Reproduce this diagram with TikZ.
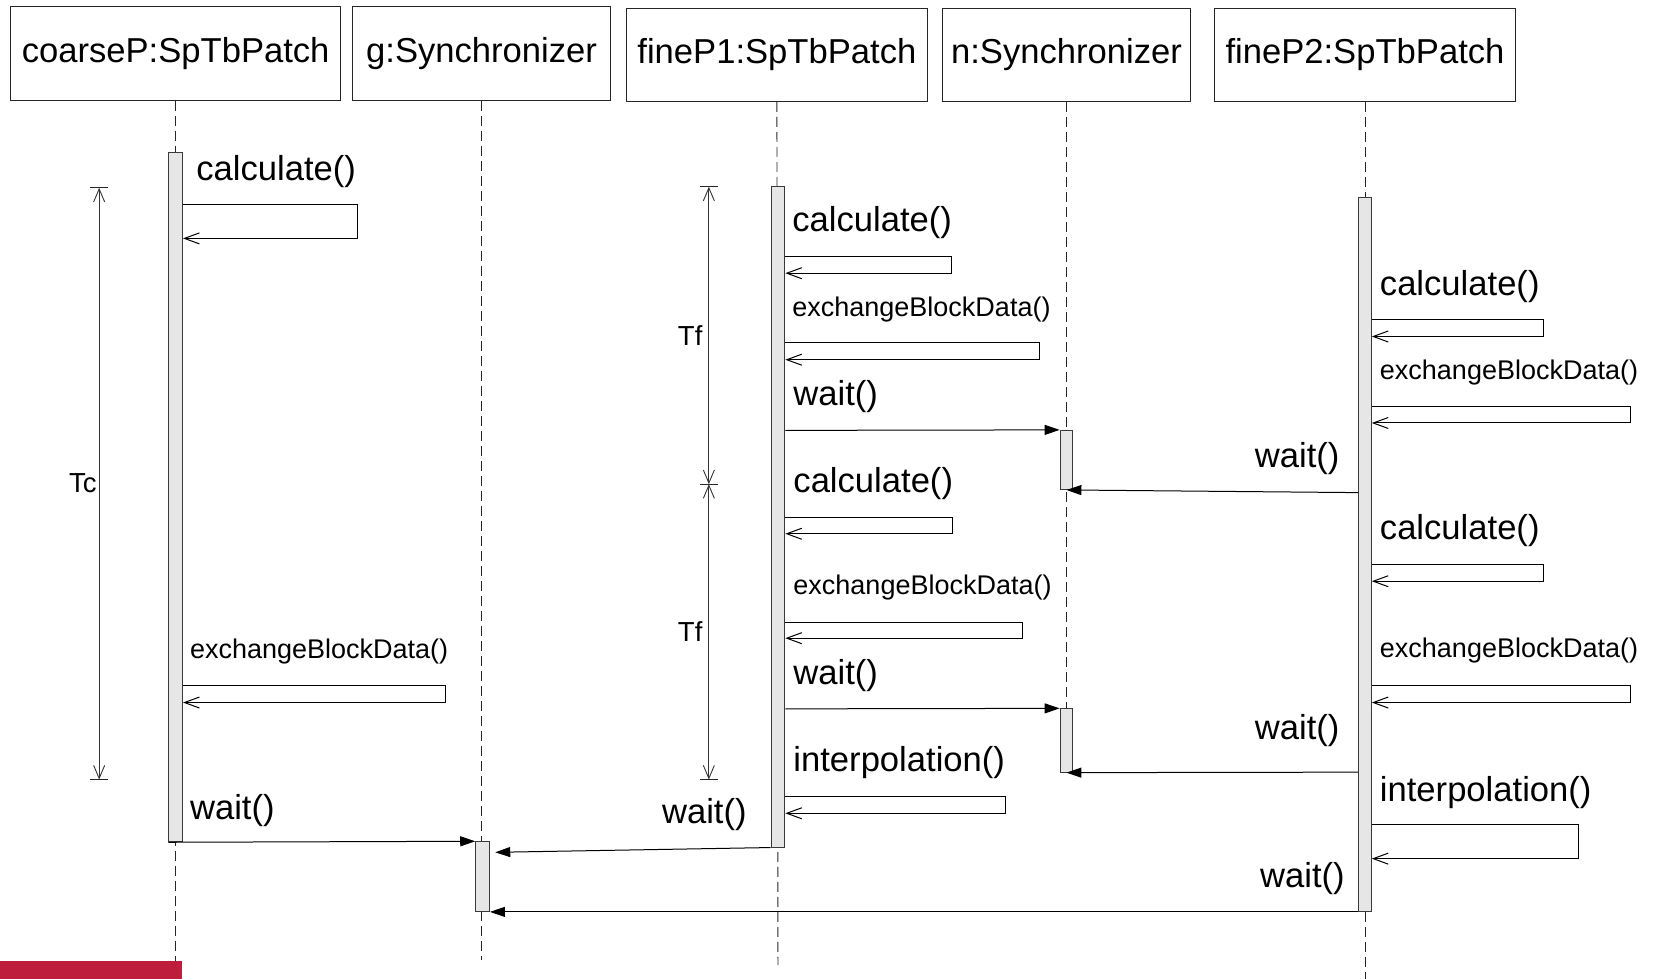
\documentclass[tikz,border=0pt]{standalone}
\usepackage{fontspec}
\setmainfont{Liberation Sans}
\usetikzlibrary{fit,arrows.meta,calc}
\definecolor{actfill}{HTML}{E6E6E6}
\definecolor{actdraw}{HTML}{3A3A3A}
\definecolor{redbar}{HTML}{BE1E3C}
\newcommand\bigfnt{\fontsize{34.6}{40}\selectfont}
\newcommand\smallfnt{\fontsize{27}{30}\selectfont}
\newcommand\tfnt{\fontsize{27.5}{30}\selectfont}
\begin{document}
\begin{tikzpicture}[x=1.0548pt,y=-1.0548pt,
  head/.style={draw=black!85, line width=1pt, inner sep=0pt, font=\bigfnt, minimum height=93.9pt},
  lifeline/.style={draw=black!85, line width=0.9pt, dash pattern=on 10pt off 5pt},
  act/.style={draw=actdraw, fill=actfill, line width=1pt, inner sep=0pt},
  selfmsg/.style={draw=black, line width=1pt, -{Straight Barb[length=15pt,width=11pt]}},
  msg/.style={draw=black, line width=1pt, -{Triangle[length=15pt,width=10pt]}},
  dim/.style={draw=black!80, line width=0.9pt, {Straight Barb[length=13pt,width=11pt]}-{Straight Barb[length=13pt,width=11pt]}},
  dimbar/.style={draw=black!85, line width=0.9pt},
  big/.style={font=\bigfnt, inner sep=0pt},
  small/.style={font=\smallfnt, inner sep=0pt},
  tlab/.style={font=\tfnt, inner sep=0pt}]
\useasboundingbox (0,0) rectangle (1568,928);

% heads
\node[head, minimum width=330.2pt] (hc) at (166.5,50.5) {\raisebox{2.5pt}{coarseP:SpTbPatch}};
\node[head, minimum width=258.4pt] (hg) at (456.5,50.5) {\raisebox{2.5pt}{g:Synchronizer}};
\node[head, minimum width=300.6pt, minimum height=92.8pt] (hf1) at (736.5,52) {\raisebox{2.5pt}{fineP1:SpTbPatch}};
\node[head, minimum width=248.9pt, minimum height=92.8pt] (hn) at (1011,52) {\raisebox{2.5pt}{n:Synchronizer}};
\node[head, minimum width=301.7pt, minimum height=92.8pt] (hf2) at (1294,52) {\raisebox{2.5pt}{fineP2:SpTbPatch}};

% lifeline ends
\coordinate (ec) at (166.5,911);
\coordinate (eg) at (456.5,910);
\coordinate (ef1) at (737.5,915);
\coordinate (ef2) at (1294,928);
\coordinate (en) at (1011,672);

\draw[lifeline] (hc.south) -- (ec);
\draw[lifeline] (hg.south) -- (eg);
\draw[lifeline] (hf1.south) -- (ef1);
\draw[lifeline] (hn.south) -- (en);
\draw[lifeline] (hf2.south) -- (ef2);

% activations
\node[act, fit={(160,145)(173,798)}] (cA) {};
\node[act, fit={(731,177)(744,803)}] (f1A) {};
\node[act, fit={(1288,187)(1300,864)}] (f2A) {};
\node[act, fit={(1005,408)(1017,464)}] (nA1) {};
\node[act, fit={(1005,672)(1017,732)}] (nA2) {};
\node[act, fit={(451,798)(464,864)}] (gA) {};

% coarseP self messages
\node[big, anchor=west] (lc1) at (186,163) {calculate()};
\draw[selfmsg] (cA.east |- 0,194) -- (339,194) -- (339,226) -- (cA.east |- 0,226);
\node[small, anchor=west] (lc2) at (180,618) {exchangeBlockData()};
\draw[selfmsg] (cA.east |- 0,650) -- (422,650) -- (422,666) -- (cA.east |- 0,666);
\node[big, anchor=west] (lc3) at (180,768) {wait()};

% fineP1 self messages
\node[big, anchor=west] (lf1) at (751,211) {calculate()};
\draw[selfmsg] (f1A.east |- 0,243) -- (902,243) -- (902,259) -- (f1A.east |- 0,259);
\node[small, anchor=west] (lf2) at (751,293) {exchangeBlockData()};
\draw[selfmsg] (f1A.east |- 0,325) -- (985,325) -- (985,341) -- (f1A.east |- 0,341);
\node[big, anchor=west] (lf3) at (752,376) {wait()};
\node[big, anchor=west] (lf4) at (752,458) {calculate()};
\draw[selfmsg] (f1A.east |- 0,491) -- (903,491) -- (903,506) -- (f1A.east |- 0,506);
\node[small, anchor=west] (lf5) at (752,557) {exchangeBlockData()};
\draw[selfmsg] (f1A.east |- 0,590) -- (969,590) -- (969,605) -- (f1A.east |- 0,605);
\node[big, anchor=west] (lf6) at (752,640) {wait()};
\node[big, anchor=west] (lf7) at (752,723) {interpolation()};
\draw[selfmsg] (f1A.east |- 0,755) -- (953,755) -- (953,771) -- (f1A.east |- 0,771);
\node[big, anchor=east] (lf8) at (708,772) {wait()};

% fineP2 self messages
\node[big, anchor=west] (lp1) at (1308,272) {calculate()};
\draw[selfmsg] (f2A.east |- 0,303) -- (1463,303) -- (1463,319) -- (f2A.east |- 0,319);
\node[small, anchor=west] (lp2) at (1308,353) {exchangeBlockData()};
\draw[selfmsg] (f2A.east |- 0,385) -- (1546,385) -- (1546,401) -- (f2A.east |- 0,401);
\node[big, anchor=east] (lp3) at (1270,435) {wait()};
\node[big, anchor=west] (lp4) at (1308,503) {calculate()};
\draw[selfmsg] (f2A.east |- 0,535) -- (1463,535) -- (1463,551) -- (f2A.east |- 0,551);
\node[small, anchor=west] (lp5) at (1308,617) {exchangeBlockData()};
\draw[selfmsg] (f2A.east |- 0,650) -- (1546,650) -- (1546,666) -- (f2A.east |- 0,666);
\node[big, anchor=east] (lp6) at (1270,693) {wait()};
\node[big, anchor=west] (lp7) at (1308,751) {interpolation()};
\draw[selfmsg] (f2A.east |- 0,782) -- (1496,782) -- (1496,814) -- (f2A.east |- 0,814);
\node[big, anchor=east] (lp8) at (1275,833) {wait()};

% synchronous messages
\draw[msg] (f1A.east |- 0,408) -- (nA1.north west);
\draw[msg] (f2A.west |- 0,467) -- (nA1.south);
\draw[msg] (f1A.east |- 0,672) -- (nA2.north west);
\draw[msg] (f2A.west |- 0,732) -- (nA2.south);
\draw[msg] (cA.south west) -- (gA.north west);
\draw[msg] (f1A.south west) -- ($(gA.east |- 0,808)+(5,0)$);
\draw[msg] (f2A.south west) -- (gA.south east);

% timing marks
\coordinate (tc1) at (94,178);
\coordinate (tc2) at (94,739);
\coordinate (tf1) at (672,177);
\coordinate (tf2) at (672,459);
\coordinate (tf3) at (672,739);
\draw[dim] (tc1) -- (tc2) node[tlab, midway, anchor=east, xshift=-2pt] {Tc};
\draw[dim] (tf1) -- (tf2) node[tlab, midway, anchor=east, xshift=-6pt] {Tf};
\draw[dim] (tf2) -- (tf3) node[tlab, midway, anchor=east, xshift=-6pt] {Tf};
\foreach \p in {tc1,tc2,tf1,tf2,tf3}
  \draw[dimbar] ([xshift=-9pt]\p) -- ([xshift=9pt]\p);

% red bar
\fill[redbar] (0,911) rectangle (173,928);
\end{tikzpicture}
\end{document}
